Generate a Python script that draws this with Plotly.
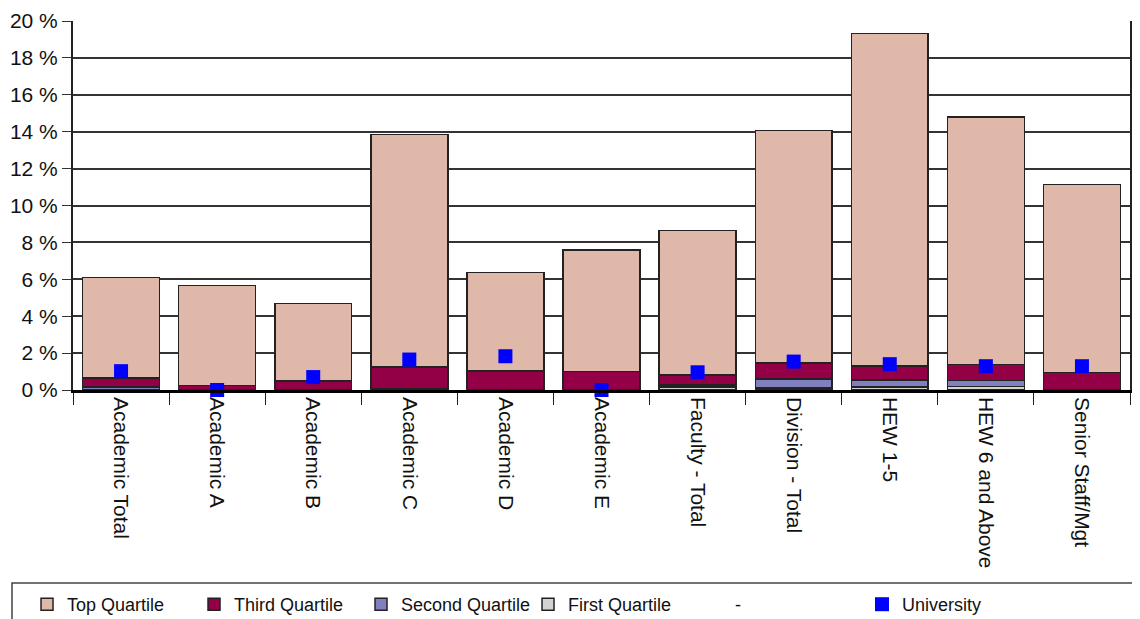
import plotly.graph_objects as go

categories = ["Academic Total", "Academic A", "Academic B", "Academic C", "Academic D",
              "Academic E", "Faculty - Total", "Division - Total", "HEW 1-5",
              "HEW 6 and Above", "Senior Staff/Mgt"]

# stacked segment values (%)
first_q = [0, 0, 0, 0, 0, 0, 0.15, 0.10, 0.15, 0.20, 0]
second_q = [0.15, 0, 0, 0.08, 0, 0, 0.13, 0.50, 0.40, 0.31, 0]
third_q = [0.51, 0.24, 0.50, 1.16, 1.02, 0.99, 0.54, 0.87, 0.75, 0.87, 0.96]
top_q = [5.44, 5.43, 4.19, 12.61, 5.35, 6.61, 7.83, 12.59, 18.02, 13.42, 10.17]
university = [1.02, 0, 0.70, 1.65, 1.83, 0, 0.96, 1.54, 1.40, 1.29, 1.29]

font = "Liberation Sans, Arial, sans-serif"
outline = dict(color="#222222", width=1.5)

fig = go.Figure()
fig.add_bar(x=categories, y=first_q, name="First Quartile", legendrank=4,
            marker=dict(color="#D3D3D3", line=outline))
fig.add_bar(x=categories, y=second_q, name="Second Quartile", legendrank=3,
            marker=dict(color="#8080C0", line=outline))
fig.add_bar(x=categories, y=third_q, name="Third Quartile", legendrank=2,
            marker=dict(color="#930045", line=outline))
fig.add_bar(x=categories, y=top_q, name="Top Quartile", legendrank=1,
            marker=dict(color="#DFB8AA", line=outline))
# empty "-" series shown only in the legend
fig.add_scatter(x=[categories[0]], y=[None], name="-", mode="markers", legendrank=5,
                marker=dict(color="rgba(0,0,0,0)", size=1))
fig.add_scatter(x=categories, y=university, name="University", mode="markers", legendrank=6,
                cliponaxis=False,
                marker=dict(color="#0000FF", symbol="square", size=14))

# page body has an 8px margin, so the figure is sized to fill the rest
fig.update_layout(
    width=1132, height=611,
    barmode="stack", bargap=0.2,
    plot_bgcolor="white", paper_bgcolor="white",
    margin=dict(l=65, r=10, t=13, b=229, autoexpand=False),
    font=dict(family=font, size=21, color="#111111"),
    legend=dict(orientation="h", traceorder="normal",
                xref="container", yref="container", x=0.0168, y=0.054,
                yanchor="top", xanchor="left",
                entrywidth=122, entrywidthmode="pixels",
                bgcolor="rgba(0,0,0,0)",
                font=dict(size=18), itemclick=False),
)
fig.update_yaxes(range=[0, 20], dtick=2, ticksuffix=" %", showgrid=True,
                 gridcolor="#333333", gridwidth=1.5, showline=True, linecolor="#222222",
                 linewidth=2, mirror=True, ticks="outside", ticklen=9, tickcolor="#333333",
                 zeroline=False, automargin=False)
fig.update_xaxes(range=[-0.5, len(categories) - 0.5], tickangle=90, ticks="outside",
                 tickson="boundaries", ticklen=12,
                 tickcolor="#222222", showline=True, linecolor="#000000", linewidth=2.5,
                 automargin=False)
# legend frame (right and bottom edges run off the page)
fig.add_shape(type="rect", xref="paper", yref="paper", x0=-0.0577, x1=1.03,
              y0=-0.70, y1=-0.523, line=dict(color="#444444", width=1.5))

fig.write_html("out.html")
